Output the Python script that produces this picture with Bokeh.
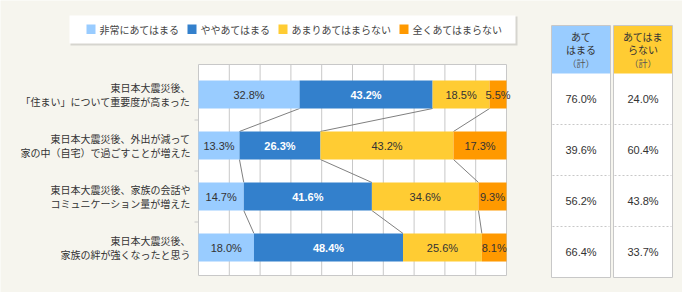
from bokeh.plotting import figure
from bokeh.models import Range1d
from bokeh.core.properties import value
from bokeh.embed import file_html
from bokeh.resources import INLINE

# ---- data -------------------------------------------------------------
categories = [
    "東日本大震災後、\n「住まい」について重要度が高まった",
    "東日本大震災後、外出が減って\n家の中（自宅）で過ごすことが増えた",
    "東日本大震災後、家族の会話や\nコミュニケーション量が増えた",
    "東日本大震災後、\n家族の絆が強くなったと思う",
]
very_much = [32.8, 13.3, 14.7, 18.0]
somewhat = [43.2, 26.3, 41.6, 48.4]
not_much = [18.5, 43.2, 34.6, 25.6]
not_at_all = [5.5, 17.3, 9.3, 8.1]

series_names = ["非常にあてはまる", "ややあてはまる", "あまりあてはまらない", "全くあてはまらない"]
applies_total = [76.0, 39.6, 56.2, 66.4]
not_applies_total = [24.0, 60.4, 43.8, 33.7]
total_headers = [["あて", "はまる"], ["あてはま", "らない"]]
total_sub = "（計）"

# ---- styling / layout --------------------------------------------------
W, H = 682, 292
BG = "#F6F5EE"
GRID = "#C8C8C8"
TXT = "#333333"
series_colors = ["#99CCFF", "#3380CC", "#FFCC33", "#FF9900"]
label_colors = ["#333333", "#FFFFFF", "#333333", "#333333"]
label_styles = ["normal", "bold", "normal", "normal"]
header_colors = ["#99CCFF", "#FFCC33"]
JP = value("Noto Sans CJK JP")
NUM = value("Liberation Sans")

PLOT_L, PLOT_R, PLOT_T, PLOT_B = 198, 506, 64, 275
ROW0, ROW_STEP = 94, 51
BAR_H = 0.55
TBL_ROW0 = 98.5
COL_L = [551, 613]
COL_W = 59
TBL_T, TBL_HEAD_B = 25, 73

p = figure(width=W, height=H, x_range=Range1d(0, W), y_range=Range1d(H, 0),
           output_backend="svg", toolbar_location=None, min_border=0,
           x_axis_type=None, y_axis_type=None,
           background_fill_color=BG, border_fill_color=BG, outline_line_color=None)
p.grid.visible = False

px_per_pct = (PLOT_R - PLOT_L) / 100.0
p.extra_x_ranges["pct"] = Range1d(start=-PLOT_L / px_per_pct, end=(W - PLOT_L) / px_per_pct)
p.extra_y_ranges["row"] = Range1d(start=(H - ROW0) / ROW_STEP, end=-ROW0 / ROW_STEP)
p.extra_y_ranges["tbl"] = Range1d(start=(H - TBL_ROW0) / ROW_STEP, end=-TBL_ROW0 / ROW_STEP)

rows = list(range(len(categories)))

# ---- legend -------------------------------------------------------------
p.quad(left=70, right=517, top=16, bottom=45, fill_color="#D6D5CF", line_color=None)
p.quad(left=69, right=515, top=15, bottom=43, fill_color="white", line_color=None)
swatch_x = [86, 187, 278, 399]
p.quad(left=swatch_x, right=[x + 9 for x in swatch_x], top=24, bottom=33.5,
       fill_color=series_colors, line_color=None)
p.text(x=[x + 13 for x in swatch_x], y=29, text=series_names, text_align="left",
       text_baseline="middle", text_font=JP, text_font_size="10px", text_color="#444444")

# ---- bar area -----------------------------------------------------------
p.quad(left=PLOT_L, right=PLOT_R, top=PLOT_T, bottom=PLOT_B, fill_color="white",
       line_color=GRID, line_width=1)
grid_pct = list(range(10, 100, 10))
p.segment(x0=grid_pct, y0=PLOT_T, x1=grid_pct, y1=PLOT_B, x_range_name="pct",
          line_color=GRID, line_width=1)
p.segment(x0=PLOT_L - 4, y0=[r + 0.5 for r in rows[:-1]], x1=PLOT_L,
          y1=[r + 0.5 for r in rows[:-1]], y_range_name="row", line_color=GRID)

series = [very_much, somewhat, not_much, not_at_all]
starts = [[0.0] * len(rows)]
for s in series:
    starts.append([a + b for a, b in zip(starts[-1], s)])

# connector lines between adjacent bars at each segment boundary
cx0, cy0, cx1, cy1 = [], [], [], []
for k in range(1, len(series)):
    for i in rows[:-1]:
        cx0.append(starts[k][i]); cy0.append(i + BAR_H / 2)
        cx1.append(starts[k][i + 1]); cy1.append(i + 1 - BAR_H / 2)
p.segment(x0=cx0, y0=cy0, x1=cx1, y1=cy1, x_range_name="pct", y_range_name="row",
          line_color="#808080", line_width=1)

for k, s in enumerate(series):
    left = starts[k]
    right = [min(v, 100.0) for v in starts[k + 1]]
    p.hbar(y=rows, left=left, right=right, height=BAR_H, x_range_name="pct",
           y_range_name="row", fill_color=series_colors[k], line_color=None)
    centers = [(a + b) / 2 for a, b in zip(left, right)]
    p.text(x=centers, y=rows, text=[f"{v:.1f}%" for v in s], x_range_name="pct",
           y_range_name="row", text_align="center", text_baseline="middle",
           text_font=NUM, text_font_size="11px", text_color=label_colors[k],
           text_font_style=label_styles[k])

p.text(x=PLOT_L - 8, y=rows, text=categories, y_range_name="row", text_align="right",
       text_baseline="middle", text_font=JP, text_font_size="10px", text_color=TXT,
       text_line_height=0.97)

# ---- totals table -------------------------------------------------------
tbl_bottom = len(rows) - 0.5
for j, col in enumerate([applies_total, not_applies_total]):
    l, r = COL_L[j], COL_L[j] + COL_W
    cx = (l + r) / 2
    p.quad(left=l, right=r, top=TBL_T, bottom=TBL_ROW0 + ROW_STEP * tbl_bottom,
           fill_color="white", line_color=GRID)
    p.quad(left=l + 0.5, right=r - 0.5, top=TBL_T + 0.5, bottom=TBL_HEAD_B,
           fill_color=header_colors[j], line_color=None)
    p.segment(x0=l + 1, y0=[r_ + 0.5 for r_ in rows[:-1]], x1=r - 1,
              y1=[r_ + 0.5 for r_ in rows[:-1]], y_range_name="tbl",
              line_color=GRID, line_dash="2 2")
    p.text(x=cx, y=[35.5, 49], text=total_headers[j], text_align="center",
           text_baseline="middle", text_font=JP, text_font_size="10px", text_color=TXT)
    p.text(x=cx, y=62.5, text=[total_sub], text_align="center", text_baseline="middle",
           text_font=JP, text_font_size="9px", text_color="#555555")
    p.text(x=cx, y=rows, text=[f"{v:.1f}%" for v in col], y_range_name="tbl",
           text_align="center", text_baseline="middle", text_font=NUM,
           text_font_size="11px", text_color=TXT)

open("out.html", "w", encoding="utf-8").write(file_html(p, INLINE))
